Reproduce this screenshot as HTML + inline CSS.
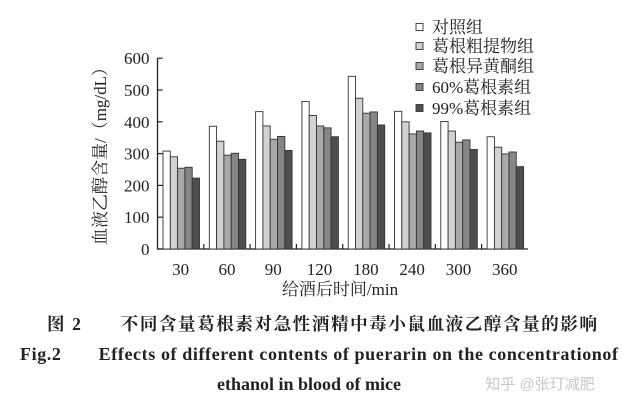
<!DOCTYPE html>
<html><head><meta charset="utf-8">
<style>
body{margin:0;background:#fff;}
svg{display:block;}
.t{font-family:"Liberation Serif","Noto Serif CJK SC",serif;fill:#222;}
</style></head>
<body>
<svg id="c" width="631" height="411" viewBox="0 0 631 411" xmlns="http://www.w3.org/2000/svg"></svg>
<script>
const categories=["30","60","90","120","180","240","300","360"];
const seriesNames=["对照组","葛根粗提物组","葛根异黄酮组","60%葛根素组","99%葛根素组"];
const s1=[308,386,432,464,543,433,401,353];
const s2=[290,339,387,420,474,400,371,320];
const s3=[254,295,345,387,427,362,336,299];
const s4=[257,301,354,381,431,371,343,305];
const s5=[223,282,310,353,390,365,313,259];
const yTicks=[0,100,200,300,400,500,600];
const series=[s1,s2,s3,s4,s5];
const colors=["#ffffff","#d2d2d2","#a9a9a9","#868686","#4e4e4e"];
const NS="http://www.w3.org/2000/svg";
const svg=document.getElementById('c');
const x0=157.5,gw=46.3,y0=249,ppu=0.318;
const Y=v=>y0-v*ppu;
function mk(tag,attrs,parent){const e=document.createElementNS(NS,tag);for(const k in attrs)e.setAttribute(k,attrs[k]);(parent||svg).appendChild(e);return e;}
const ax=mk('path',{d:`M${x0} ${Y(600)}V${y0}H${x0+gw*8}`,stroke:'#222','stroke-width':1.3,fill:'none'});


yTicks.forEach(v=>{
  const l=mk('line',{x1:x0,x2:x0+5,y1:Y(v),y2:Y(v),stroke:'#222','stroke-width':1.2});
  
  
  const t=mk('text',{x:x0-8,y:Y(v)+6,'text-anchor':'end','font-size':17,class:'t'});
  t.textContent=v;
  
  
});
categories.forEach((c,i)=>{
  const gx=x0+gw*i;
  if(i>0){const l=mk('line',{x1:gx,x2:gx,y1:y0,y2:y0-5,stroke:'#222','stroke-width':1.2});
    
    }
  series.forEach((s,j)=>{
    const r=mk('rect',{x:gx+5.5+j*7.3,y:Y(s[i]),width:7.3,height:s[i]*ppu,fill:colors[j],stroke:'#333','stroke-width':0.9});
    
    
  });
  const t=mk('text',{x:gx+gw/2,y:275,'text-anchor':'middle','font-size':17,class:'t'});
  t.textContent=c;
  
  
});
const ly=[27,46,66,87,108];
seriesNames.forEach((n,j)=>{
  const r=mk('rect',{x:416,y:ly[j]-3.5,width:7,height:7,fill:colors[j],stroke:'#333','stroke-width':0.9});
  
  
  const t=mk('text',{x:432,y:ly[j]+6,'font-size':17,class:'t'});
  t.textContent=n;
  
  
});
</script>
<svg style="position:absolute;left:0;top:0" width="631" height="411" xmlns="http://www.w3.org/2000/svg">
<text class="t" transform="translate(106,152) rotate(-90)" text-anchor="middle" font-size="17">血液乙醇含量/（mg/dL）</text>
<text class="t" x="340" y="295" text-anchor="middle" font-size="17">给酒后时间/min</text>
<text class="t" x="47" y="330" font-size="17.5" font-weight="bold" textLength="550" lengthAdjust="spacing" style="font-family:'Liberation Serif','Noto Serif CJK SC',serif">图 2　　不同含量葛根素对急性酒精中毒小鼠血液乙醇含量的影响</text>
<text class="t" x="20" y="360" font-size="18" font-weight="bold" textLength="598" lengthAdjust="spacing">Fig.2　　Effects of different contents of puerarin on the concentrationof</text>
<text class="t" x="309" y="390" text-anchor="middle" font-size="18" font-weight="bold">ethanol in blood of mice</text>
<text x="540" y="389" text-anchor="middle" font-size="15" fill="#c8c8c8" style="font-family:'Liberation Sans','Noto Sans CJK SC',sans-serif">知乎 @张玎减肥</text>
</svg>
</body></html>
